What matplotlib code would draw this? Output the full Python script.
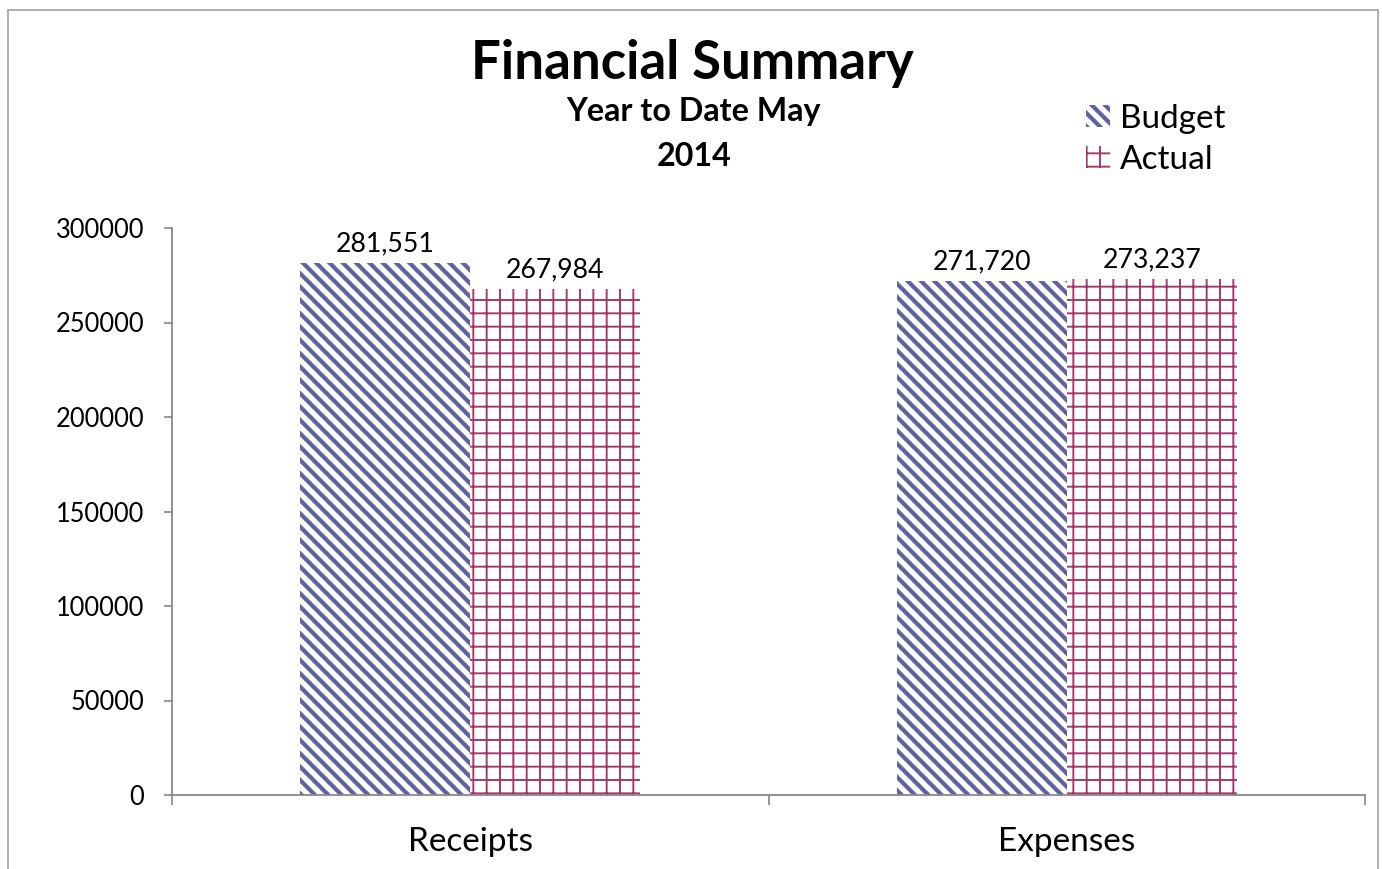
import matplotlib
matplotlib.use("Agg")
import matplotlib.pyplot as plt
from matplotlib.patches import Patch
from matplotlib.lines import Line2D
import numpy as np

categories = ["Receipts", "Expenses"]
budget = [281551, 271720]
actual = [267984, 273237]
series_names = ["Budget", "Actual"]
y_ticks = [0, 50000, 100000, 150000, 200000, 250000, 300000]

BUDGET_COLOR = "#62629f"
ACTUAL_COLOR = "#a3346c"
AXIS_GRAY = "#868686"

plt.rcParams["font.family"] = ["Lato", "DejaVu Sans"]

DPI = 80
fig = plt.figure(figsize=(1382 / DPI, 869 / DPI), dpi=DPI)
ax = fig.add_axes([172 / 1382, 1 - 795 / 869, (1365 - 172) / 1382, (795 - 228) / 869])

x = np.arange(len(categories))
w = 0.285

BUDGET_HATCH = "\\\\"   # two backslashes -> denser diagonal stripes
ACTUAL_HATCH = "+"
BUDGET_LW = 3.8
ACTUAL_LW = 1.7


def hatched_bars(xpos, vals, color, hatch, lw):
    with plt.rc_context({"hatch.color": color, "hatch.linewidth": lw}):
        bars = ax.bar(xpos, vals, width=w, facecolor="white", edgecolor=color,
                      linewidth=0, hatch=hatch)
    for b in bars:
        if hasattr(b, "set_hatch_linewidth"):
            b.set_hatch_linewidth(lw)
        b._hatch_color = matplotlib.colors.to_rgba(color)
    return bars


b1 = hatched_bars(x - w / 2, budget, BUDGET_COLOR, BUDGET_HATCH, BUDGET_LW)
b2 = hatched_bars(x + w / 2, actual, ACTUAL_COLOR, ACTUAL_HATCH, ACTUAL_LW)

for bars, vals in ((b1, budget), (b2, actual)):
    for b, v in zip(bars, vals):
        ax.annotate(f"{v:,}", (b.get_x() + b.get_width() / 2, v),
                    xytext=(0, 6), textcoords="offset points",
                    ha="center", va="bottom", fontsize=24)

ax.set_xlim(-0.5, 1.5)
ax.set_ylim(0, 300000)
ax.set_yticks(y_ticks)
ax.set_yticklabels([str(t) for t in y_ticks])
ax.set_xticks(x)
ax.set_xticklabels(categories)
ax.set_xticks([-0.5, 0.5, 1.5], minor=True)
ax.tick_params(axis="x", which="major", length=0, pad=29, labelsize=30)
ax.tick_params(axis="x", which="minor", length=9, width=1.5, color=AXIS_GRAY, direction="out")
ax.tick_params(axis="y", length=7, width=1.5, color=AXIS_GRAY, pad=18, labelsize=23)

for s in ("top", "right"):
    ax.spines[s].set_visible(False)
for s in ("left", "bottom"):
    ax.spines[s].set_color(AXIS_GRAY)
    ax.spines[s].set_linewidth(1.6)

fig.text(692 / 1382, 1 - 63 / 869, "Financial Summary", ha="center", va="center",
         fontsize=47.5, fontweight="bold")
fig.text(694 / 1382, 1 - 111 / 869, "Year to Date May", ha="center", va="center",
         fontsize=29, fontweight="bold")
fig.text(694 / 1382, 1 - 156 / 869, "2014", ha="center", va="center",
         fontsize=29, fontweight="bold")

handles = []
for name, col, h in ((series_names[0], BUDGET_COLOR, BUDGET_HATCH),
                     (series_names[1], ACTUAL_COLOR, ACTUAL_HATCH)):
    handles.append(Patch(facecolor="white", edgecolor=col, linewidth=0, hatch=h, label=name))
with plt.rc_context({"hatch.linewidth": 2.5}):
    leg = fig.legend(handles=handles, loc="upper left",
                     bbox_to_anchor=(1086 / 1382, 1 - 104 / 869),
                     frameon=False, fontsize=30, handlelength=0.72, handleheight=0.65,
                     handletextpad=0.3, labelspacing=0.32, borderpad=0, borderaxespad=0)
for p, col, lw in zip(leg.get_patches(), (BUDGET_COLOR, ACTUAL_COLOR), (BUDGET_LW, ACTUAL_LW)):
    p._hatch_color = matplotlib.colors.to_rgba(col)
    if hasattr(p, "set_hatch_linewidth"):
        p.set_hatch_linewidth(lw)

# outer chart border
bc = "#a6a6a6"
fig.add_artist(Line2D([8 / 1382, 8 / 1382], [0, 1 - 9.5 / 869], color=bc, lw=1.6))
fig.add_artist(Line2D([8 / 1382, 1378 / 1382], [1 - 9.5 / 869, 1 - 9.5 / 869], color=bc, lw=1.6))
fig.add_artist(Line2D([1378 / 1382, 1378 / 1382], [0, 1 - 9.5 / 869], color=bc, lw=1.6))

fig.savefig("out.png", dpi=DPI)
